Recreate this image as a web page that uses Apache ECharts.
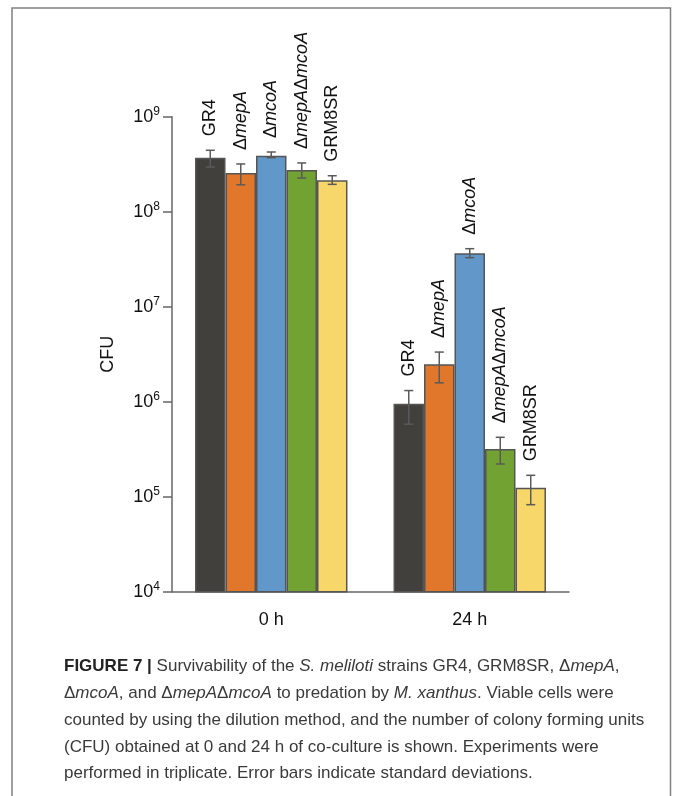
<!DOCTYPE html>
<html>
<head>
<meta charset="utf-8">
<script src="https://cdn.jsdelivr.net/npm/echarts@6/dist/echarts.min.js"></script>
<style>
  html, body { margin: 0; padding: 0; background: #fff; }
  #chart { width: 673px; height: 796px; }
</style>
</head>
<body>
<div id="chart"></div>
<script>
// Données (UFC, échelle log)
const times = ['0 h', '24 h'];
const strains = ['GR4', 'ΔmepA', 'ΔmcoA', 'ΔmepAΔmcoA', 'GRM8SR'];
const strainLabels = ['GR4', 'Δ{i|mepA}', 'Δ{i|mcoA}', 'Δ{i|mepA}Δ{i|mcoA}', 'GRM8SR'];
const colors = ['#42403c', '#e0772a', '#6197c9', '#72a232', '#f7d66a'];

const cfu0h = [3.7e8, 2.55e8, 3.88e8, 2.75e8, 2.14e8];
const cfu24h = [9.5e5, 2.48e6, 3.65e7, 3.18e5, 1.24e5];
const errLow0h = [2.95e8, 1.92e8, 3.7e8, 2.26e8, 1.94e8];
const errHigh0h = [4.43e8, 3.18e8, 4.25e8, 3.26e8, 2.39e8];
const errLow24h = [5.8e5, 1.58e6, 3.28e7, 2.21e5, 8.24e4];
const errHigh24h = [1.31e6, 3.33e6, 4.08e7, 4.22e5, 1.68e5];

const barFrac = 0.1536;
const font = 'Liberation Sans, Arial, sans-serif';

const chart = echarts.init(document.getElementById('chart'));

// séries de barres
const barSeries = strains.map((name, i) => ({
    name: name,
    type: 'bar',
    data: [cfu0h[i], cfu24h[i]],
    barWidth: (barFrac * 100) + '%',
    barGap: '0%',
    itemStyle: { color: colors[i], borderColor: '#555', borderWidth: 1.5 },
    clip: true,
    z: 2
}));

// barres d'erreur + étiquettes
const errData = [];
strains.forEach((name, i) => {
    errData.push([0, errLow0h[i], errHigh0h[i], i]);
    errData.push([1, errLow24h[i], errHigh24h[i], i]);
});

const errSeries = {
    type: 'custom',
    data: errData,
    encode: { x: 0, y: [1, 2] },
    z: 5,
    renderItem: function (params, api) {
        const t = api.value(0), lo = api.value(1), hi = api.value(2), s = api.value(3);
        const pLo = api.coord([t, lo]);
        const pHi = api.coord([t, hi]);
        const catW = api.coord([1, lo])[0] - api.coord([0, lo])[0];
        const bw = catW * barFrac;
        const x = pLo[0] + (s - 2) * bw;
        const st = { stroke: '#5a5a5a', lineWidth: 1.5 };
        return {
            type: 'group',
            children: [
                { type: 'line', shape: { x1: x, y1: pLo[1], x2: x, y2: pHi[1] }, style: st },
                { type: 'line', shape: { x1: x - 4.5, y1: pLo[1], x2: x + 4.5, y2: pLo[1] }, style: st },
                { type: 'line', shape: { x1: x - 4.5, y1: pHi[1], x2: x + 4.5, y2: pHi[1] }, style: st },
                {
                    type: 'text',
                    x: x,
                    y: pHi[1] - 14,
                    rotation: Math.PI / 2,
                    style: {
                        text: strainLabels[s],
                        fontSize: 18,
                        fontFamily: font,
                        fill: '#111',
                        align: 'left',
                        verticalAlign: 'middle',
                        rich: { i: { fontSize: 18, fontStyle: 'italic', fontFamily: font, fill: '#111' } }
                    }
                }
            ]
        };
    }
};

const captionLines = [
    '{b|FIGURE 7 |} Survivability of the {i|S. meliloti} strains GR4, GRM8SR, Δ{i|mepA},',
    'Δ{i|mcoA}, and Δ{i|mepA}Δ{i|mcoA} to predation by {i|M. xanthus}. Viable cells were',
    'counted by using the dilution method, and the number of colony forming units',
    '(CFU) obtained at 0 and 24 h of co-culture is shown. Experiments were',
    'performed in triplicate. Error bars indicate standard deviations.'
];

const captionRich = {
    b: { fontWeight: 'bold', fontSize: 17, fontFamily: font, fill: '#222' },
    i: { fontStyle: 'italic', fontSize: 17, fontFamily: font, fill: '#3a3a3a' }
};

const graphics = [
    {
        type: 'rect',
        shape: { x: 12, y: 8, width: 658.5, height: 800 },
        style: { fill: 'none', stroke: '#808080', lineWidth: 1.5 },
        silent: true
    }
].concat(captionLines.map((line, k) => ({
    type: 'text',
    left: 64,
    top: 658 + k * 26.8,
    style: {
        text: line,
        fontSize: 17,
        fontFamily: font,
        fill: '#3a3a3a',
        rich: captionRich
    }
})));

const option = {
    animation: false,
    grid: { left: 172, right: 104, top: 116.7, bottom: 204.3 },
    xAxis: {
        type: 'category',
        data: times,
        axisTick: { show: false },
        axisLine: { lineStyle: { color: '#666', width: 1.5 } },
        axisLabel: { fontSize: 18, fontFamily: font, color: '#111', margin: 19 }
    },
    yAxis: {
        type: 'log',
        logBase: 10,
        min: 1e4,
        max: 1e9,
        name: 'CFU',
        nameLocation: 'middle',
        nameGap: 55,
        nameTextStyle: { fontSize: 18, fontFamily: font, color: '#111' },
        splitLine: { show: false },
        axisLine: { show: true, lineStyle: { color: '#666', width: 1.5 } },
        axisTick: { show: true, length: 9, lineStyle: { color: '#666', width: 1.5 } },
        axisLabel: {
            margin: 12,
            formatter: function (v) {
                return '{b|10}{s|' + Math.round(Math.log10(v)) + '}';
            },
            rich: {
                b: { fontSize: 18, fontFamily: font, color: '#111', lineHeight: 22 },
                s: { fontSize: 12, fontFamily: font, color: '#111', verticalAlign: 'top', padding: [0, 0, 0, 0] }
            }
        }
    },
    graphic: graphics,
    series: barSeries.concat([errSeries])
};

chart.setOption(option);
</script>
</body>
</html>
